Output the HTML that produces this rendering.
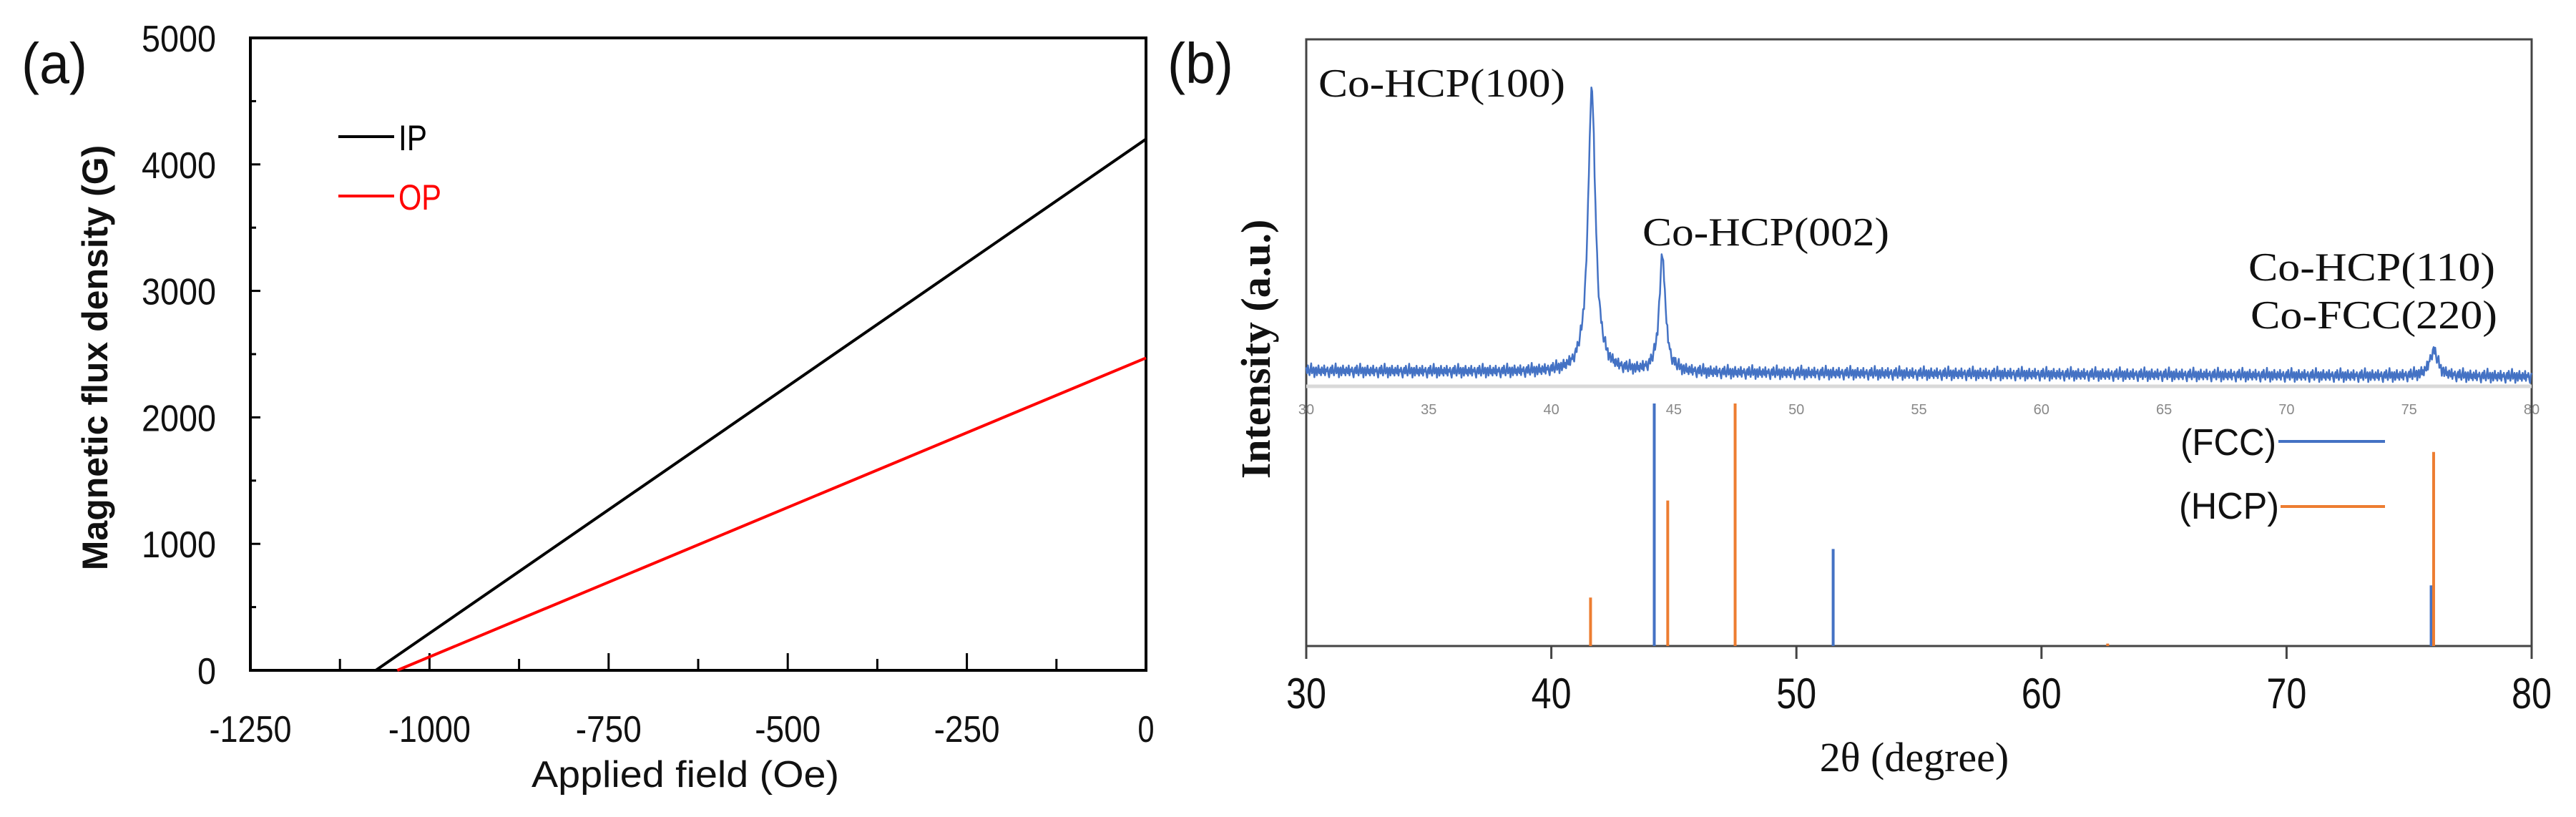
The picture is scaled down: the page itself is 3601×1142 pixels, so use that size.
<!DOCTYPE html>
<html><head><meta charset="utf-8"><style>
html,body{margin:0;padding:0;background:#fff;}
svg{display:block;}
</style></head><body>
<svg id="fig" width="3601" height="1142" viewBox="0 0 3601 1142" xmlns="http://www.w3.org/2000/svg">
<g id="panelA"></g>
<g id="panelB"></g>
</svg>
<script>
// ---- Panel (a) data ----
const aXTicks = [-1250, -1000, -750, -500, -250, 0];
const aYTicks = [0, 1000, 2000, 3000, 4000, 5000];
const ipX = [-1075, 0];
const ipY = [0, 4200];
const opX = [-1045, 0];
const opY = [0, 2470];
// ---- Panel (b) data ----
const bXTicks = [30, 40, 50, 60, 70, 80];
const bSmallTicks = [30, 35, 40, 45, 50, 55, 60, 65, 70, 75, 80];
const peakPos = [41.65, 44.53, 76.0];
const peakHeight = [100, 41, 9];
const peakWidth = [0.18, 0.15, 0.2];
const noiseVals = [2,-1,3,0,-2,1,4,-1,0,2,-3,1,2,-2,0,3,-1,1,-2,2,0,-1,3,-2,1,0,2,-1,-3,1];
const fccPos = [44.2, 51.5, 75.9];
const fccInt = [100, 40, 25];
const hcpPos = [41.6, 44.75, 47.5, 62.7, 76.0];
const hcpInt = [20, 60, 100, 1, 80];

const NS = "http://www.w3.org/2000/svg";
function mk(parent, tag, attrs, text){
  const e = document.createElementNS(NS, tag);
  for (const k in attrs) e.setAttribute(k, attrs[k]);
  if (text !== undefined) e.textContent = text;
  parent.appendChild(e);
  return e;
}

// ===== Panel A =====
const A = document.getElementById('panelA');
const aL=350, aR=1602, aT=53, aB=937;
const ax = v => aL + (v - (-1250)) / 1250 * (aR - aL);
const ay = v => aB - v / 5000 * (aB - aT);
const sans = '"Liberation Sans", sans-serif';

let t = mk(A,'text',{x:30,y:116,'font-family':sans,'font-size':80,fill:'#111',textLength:92,lengthAdjust:'spacingAndGlyphs'},'(a)');



let r = mk(A,'rect',{x:aL,y:aT,width:aR-aL,height:aB-aT,fill:'none',stroke:'#000','stroke-width':4});



for (let v=-1250; v<=0; v+=125){
  const major = (v % 250 === 0);
  const tk = mk(A,'line',{x1:ax(v),x2:ax(v),y1:aB,y2:aB-(major?24:16),stroke:'#000','stroke-width':3});
  
  
}
for (let v=0; v<=5000; v+=500){
  const major = (v % 1000 === 0);
  const tk = mk(A,'line',{x1:aL,x2:aL+(major?14:8),y1:ay(v),y2:ay(v),stroke:'#000','stroke-width':3});
  
  
}
aXTicks.forEach(v=>{
  const s = String(v);
  const e = mk(A,'text',{x:ax(v),y:1037,'text-anchor':'middle','font-family':sans,'font-size':52,fill:'#111',textLength:s.length*23,lengthAdjust:'spacingAndGlyphs'}, s);
  
  
});
aYTicks.forEach(v=>{
  const s = String(v);
  const e = mk(A,'text',{x:302,y:ay(v)+19,'text-anchor':'end','font-family':sans,'font-size':52,fill:'#111',textLength:s.length*26,lengthAdjust:'spacingAndGlyphs'}, s);
  
  
});
t = mk(A,'text',{x:958,y:1100,'text-anchor':'middle','font-family':sans,'font-size':52,fill:'#111',textLength:430,lengthAdjust:'spacingAndGlyphs'},'Applied field (Oe)');


t = mk(A,'text',{x:0,y:0,'text-anchor':'middle','font-family':sans,'font-size':50,'font-weight':'bold',fill:'#111',transform:'translate(150,500) rotate(-90)'},'Magnetic flux density (G)');



let l = mk(A,'line',{x1:ax(ipX[0]),y1:ay(ipY[0]),x2:ax(ipX[1]),y2:ay(ipY[1]),stroke:'#000','stroke-width':4});


l = mk(A,'line',{x1:ax(opX[0]),y1:ay(opY[0]),x2:ax(opX[1]),y2:ay(opY[1]),stroke:'#f00','stroke-width':4});



l = mk(A,'line',{x1:473,x2:551,y1:191,y2:191,stroke:'#000','stroke-width':4});


t = mk(A,'text',{x:557,y:210,'font-family':sans,'font-size':50,fill:'#000',textLength:40,lengthAdjust:'spacingAndGlyphs'},'IP');


l = mk(A,'line',{x1:473,x2:551,y1:274,y2:274,stroke:'#f00','stroke-width':4});


t = mk(A,'text',{x:557,y:293,'font-family':sans,'font-size':50,fill:'#f00',textLength:60,lengthAdjust:'spacingAndGlyphs'},'OP');



// ===== Panel B =====
const B = document.getElementById('panelB');
const bL=1826, bR=3539, bT=55, bB=903;
const bx = v => bL + (v-30)/50*(bR-bL);
const base0 = 527, peakTop = 131;
const iy = v => base0 - v/100*(base0-peakTop);
const refTop = 564;
const ry = v => bB - v/100*(bB-refTop);
const serif = '"Liberation Serif", serif';
const blue = '#4472C4', orange = '#ED7D31';

t = mk(B,'text',{x:1632,y:116,'font-family':sans,'font-size':80,fill:'#111',textLength:92,lengthAdjust:'spacingAndGlyphs'},'(b)');



r = mk(B,'rect',{x:bL,y:bT,width:bR-bL,height:bB-bT,fill:'none',stroke:'#444','stroke-width':3});



l = mk(B,'line',{x1:bL,x2:bR,y1:540,y2:540,stroke:'#d9d9d9','stroke-width':5});


bSmallTicks.forEach(v=>{
  const e = mk(B,'text',{x:bx(v),y:579,'text-anchor':'middle','font-family':sans,'font-size':20,fill:'#888'},String(v));
  
  
});

// XRD curve
let d = '';
const N = 1500;
for (let i=0;i<=N;i++){
  const x = 30 + 50*i/N;
  let v = 2 - 2*(x-30)/50;
  for (let k=0;k<peakPos.length;k++){
    const g = peakWidth[k];
    v += peakHeight[k] * g*g/((x-peakPos[k])*(x-peakPos[k]) + g*g);
  }
  v += noiseVals[i % noiseVals.length]*0.7;
  d += (i?'L':'M') + bx(x).toFixed(1) + ' ' + iy(v).toFixed(1);
}
let p = mk(B,'path',{d:d,fill:'none',stroke:blue,'stroke-width':2.5,'stroke-linejoin':'round'});



// reference bars
fccPos.forEach((x,i)=>{
  const e = mk(B,'line',{x1:bx(x),x2:bx(x),y1:bB,y2:ry(fccInt[i]),stroke:blue,'stroke-width':4});
  
  
});
hcpPos.forEach((x,i)=>{
  const e = mk(B,'line',{x1:bx(x),x2:bx(x),y1:bB,y2:ry(hcpInt[i]),stroke:orange,'stroke-width':4});
  
  
});

// bottom ticks
bXTicks.forEach(v=>{
  const tk = mk(B,'line',{x1:bx(v),x2:bx(v),y1:bB,y2:bB+18,stroke:'#444','stroke-width':3});
  
  
  const e = mk(B,'text',{x:bx(v),y:990,'text-anchor':'middle','font-family':sans,'font-size':60,fill:'#111',textLength:56,lengthAdjust:'spacingAndGlyphs'},String(v));
  
  
});
t = mk(B,'text',{x:2676,y:1078,'text-anchor':'middle','font-family':serif,'font-size':58,fill:'#111'},'2θ (degree)');


t = mk(B,'text',{x:0,y:0,'text-anchor':'middle','font-family':serif,'font-size':58,'font-weight':'bold',fill:'#111',transform:'translate(1775,488) rotate(-90)'},'Intensity (a.u.)');



const ann = [['Co-HCP(100)',1843,135,'peak-label-100'],['Co-HCP(002)',2296,343,'peak-label-002'],['Co-HCP(110)',3143,392,'peak-label-110'],['Co-FCC(220)',3146,459,'peak-label-220']];
ann.forEach(a=>{
  const e = mk(B,'text',{x:a[1],y:a[2],'font-family':serif,'font-size':56,fill:'#111',textLength:345,lengthAdjust:'spacingAndGlyphs'},a[0]);
  
  
});

t = mk(B,'text',{x:3182,y:636,'text-anchor':'end','font-family':sans,'font-size':52,fill:'#111',textLength:134,lengthAdjust:'spacingAndGlyphs'},'(FCC)');


l = mk(B,'line',{x1:3185,x2:3334,y1:617,y2:617,stroke:blue,'stroke-width':4});


t = mk(B,'text',{x:3186,y:725,'text-anchor':'end','font-family':sans,'font-size':52,fill:'#111',textLength:140,lengthAdjust:'spacingAndGlyphs'},'(HCP)');


l = mk(B,'line',{x1:3188,x2:3334,y1:708,y2:708,stroke:orange,'stroke-width':4});


</script>
</body></html>
